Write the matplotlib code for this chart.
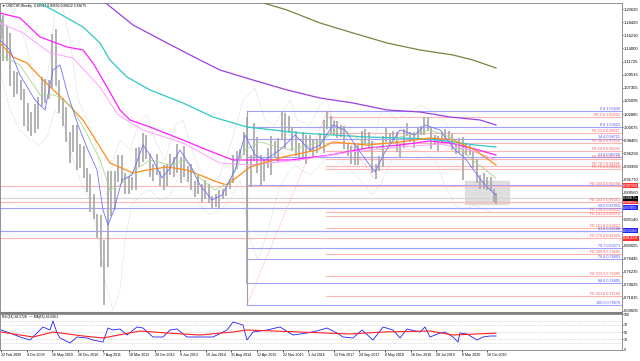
import matplotlib
matplotlib.use("Agg")
import matplotlib.pyplot as plt
import numpy as np
import pandas as pd

START = pd.Timestamp("2009-02-22")   # first weekly bar

# ── monthly price ranges (Feb 2009 .. Jan 2021) ────────────────────────────
highs = [
    1.1900, 1.1966, 1.1770, 1.1660, 1.1010, 1.1000, 1.0860, 1.0710, 1.0470, 1.0330, 1.0460,
    1.0570, 1.0920, 1.0880, 1.0860, 1.1640, 1.1730, 1.0870, 1.0560, 1.0400, 0.9990, 1.0100, 1.0100,
    0.9780, 0.9740, 0.9370, 0.9270, 0.8930, 0.8600, 0.8580, 0.8160, 0.9320, 0.9320, 0.9330, 0.9590,
    0.9600, 0.9290, 0.9230, 0.9220, 0.9710, 0.9730, 0.9970, 0.9930, 0.9610, 0.9450, 0.9620, 0.9330,
    0.9430, 0.9440, 0.9620, 0.9570, 0.9780, 0.9560, 0.9750, 0.9410, 0.9440, 0.9160, 0.9250, 0.9110,
    0.9170, 0.9110, 0.8900, 0.8940, 0.9000, 0.9020, 0.9060, 0.9190, 0.9600, 0.9670, 0.9700, 0.9980,
    1.0240, 0.9600, 1.0130, 0.9900, 0.9600, 0.9530, 0.9710, 0.9910, 0.9840, 0.9880, 1.0330, 1.0300,
    1.0260, 1.0070, 1.0010, 0.9800, 0.9990, 0.9930, 0.9940, 0.9870, 0.9850, 0.9970, 1.0190, 1.0344,
    1.0260, 1.0170, 1.0170, 1.0100, 1.0090, 0.9800, 0.9740, 0.9770, 0.9760, 1.0000, 1.0040, 0.9980,
    0.9840, 0.9450, 0.9580, 0.9920, 1.0060, 0.9970, 1.0000, 0.9980, 0.9790, 1.0030, 1.0130, 0.9990,
    0.9990, 1.0050, 1.0080, 1.0240, 1.0240, 1.0070, 0.9930, 0.9920, 0.9990, 1.0030, 1.0000, 0.9950,
    0.9760, 0.9880, 0.9900, 0.9800, 0.9760, 0.9660, 0.9530, 0.9250, 0.9300, 0.9220, 0.9220, 0.9020,
    0.8960]
lows = [
    1.1550, 1.1180, 1.1190, 1.0770, 1.0580, 1.0630, 1.0520, 1.0090, 1.0010, 0.9920, 0.9960,
    1.0030, 1.0430, 1.0480, 1.0550, 1.0730, 1.0760, 1.0300, 1.0080, 0.9810, 0.9460, 0.9640, 0.9350,
    0.9380, 0.9210, 0.8970, 0.8640, 0.8520, 0.8200, 0.7700, 0.7067, 0.7710, 0.8570, 0.8670, 0.9140,
    0.9130, 0.8930, 0.8930, 0.9000, 0.9000, 0.9390, 0.9480, 0.9530, 0.9230, 0.9160, 0.9260, 0.9070,
    0.9010, 0.9080, 0.9250, 0.9220, 0.9290, 0.9130, 0.9230, 0.9140, 0.9000, 0.8890, 0.8930, 0.8800,
    0.8850, 0.8790, 0.8700, 0.8710, 0.8700, 0.8860, 0.8910, 0.9030, 0.9120, 0.9360, 0.9530, 0.9600,
    0.7410, 0.9050, 0.9490, 0.9300, 0.9070, 0.9150, 0.9370, 0.9260, 0.9550, 0.9480, 0.9850, 0.9700,
    0.9960, 0.9660, 0.9580, 0.9500, 0.9560, 0.9440, 0.9670, 0.9540, 0.9630, 0.9720, 0.9630, 1.0040,
    0.9950, 0.9930, 0.9880, 0.9900, 0.9690, 0.9580, 0.9440, 0.9420, 0.9420, 0.9690, 0.9790, 0.9720,
    0.9290, 0.9190, 0.9330, 0.9400, 0.9820, 0.9790, 0.9860, 0.9650, 0.9540, 0.9720, 0.9920, 0.9810,
    0.9720, 0.9890, 0.9930, 0.9940, 1.0000, 0.9690, 0.9770, 0.9660, 0.9800, 0.9830, 0.9860, 0.9680,
    0.9610, 0.9630, 0.9180, 0.9590, 0.9590, 0.9370, 0.9130, 0.9030, 0.9020, 0.9000, 0.8990, 0.8800,
    0.8760]

# ── moving averages: (week index, price) ───────────────────────────────────
ma_blue_wk = [-1.25, 11.25, 23.75, 42.5, 55, 65, 73.75, 83.75, 96.25, 108.75, 120, 127.5, 133.75,
              141.25, 151.25, 163.75, 177.5, 188.75, 201.25, 211.25, 223.75, 236.25, 248.75, 263.75,
              276.25, 292.5, 305, 317.5, 330, 348.75, 367.5, 386.25, 398.75, 415, 430, 448.75, 467.5,
              480, 498.75, 517.5, 530, 548.75, 567.5, 580, 592.5, 605, 618.75]
ma_blue = [1.1539, 1.1370, 1.0948, 1.0526, 1.0357, 1.1032, 1.1117, 1.0610, 1.0103, 0.9681, 0.9343,
           0.8667, 0.8414, 0.8667, 0.9174, 0.9258, 0.9765, 0.9546, 0.9208, 0.9377, 0.9681, 0.9427,
           0.9089, 0.8836, 0.8920, 0.9343, 0.9934, 0.9596, 0.9512, 0.9681, 0.9934, 0.9681, 0.9765,
           1.0103, 1.0019, 0.9647, 0.9309, 0.9647, 1.0019, 0.9934, 1.0103, 1.0019, 0.9681, 0.9546,
           0.9309, 0.9089, 0.8920]
ma_green_wk = [-1.25, 23.75, 48.75, 67.5, 86.25, 105, 123.75, 136.25, 148.75, 167.5, 186.25, 211.25,
               230, 248.75, 267.5, 286.25, 305, 323.75, 361.25, 398.75, 423.75, 448.75, 473.75,
               498.75, 536.25, 561.25, 586.25, 618.75]
ma_green = [1.1286, 1.1117, 1.0610, 1.0610, 1.0441, 1.0019, 0.9512, 0.9005, 0.9089, 0.9343, 0.9512,
            0.9427, 0.9512, 0.9208, 0.9005, 0.9140, 0.9681, 0.9816, 0.9681, 0.9816, 1.0052, 0.9850,
            0.9681, 0.9900, 1.0019, 0.9900, 0.9546, 0.9208]
ma_orange_wk = [-1.25, 15, 32.5, 52.5, 82.5, 102.5, 123.75, 136.25, 165, 182.5, 207.5, 232.5, 257.5,
                273.75, 282.5, 311.25, 352.5, 395, 415, 457.5, 498.75, 536.25, 565, 592.5, 618.75]
ma_orange = [1.1489, 1.1252, 1.1151, 1.0863, 1.0475, 1.0188, 0.9731, 0.9461, 0.9292, 0.9343, 0.9393,
             0.9343, 0.9208, 0.9123, 0.9089, 0.9393, 0.9562, 0.9681, 0.9816, 0.9765, 0.9816, 0.9884,
             0.9850, 0.9681, 0.9427]
ma_pink_wk = [-1.25, 27.5, 61.25, 90, 123.75, 146.25, 177.5, 227.5, 273.75, 311.25, 373.75, 436.25,
              498.75, 548.75, 586.25, 618.75]
ma_pink = [1.1826, 1.1658, 1.1320, 1.1235, 1.0745, 1.0272, 1.0019, 0.9799, 0.9461, 0.9427, 0.9512,
           0.9647, 0.9731, 0.9782, 0.9681, 0.9512]
ma_magenta_wk = [-1.25, 23.75, 48.75, 82.5, 102.5, 115, 132.5, 148.75, 161.25, 186.25, 227.5, 257.5,
                 273.75, 290, 323.75, 361.25, 411.25, 457.5, 498.75, 536.25, 561.25, 592.5, 618.75]
ma_magenta = [1.1996, 1.1911, 1.1590, 1.1421, 1.1370, 1.1151, 1.0745, 1.0357, 1.0188, 1.0069, 0.9850,
              0.9681, 0.9596, 0.9512, 0.9512, 0.9512, 0.9596, 0.9714, 0.9765, 0.9833, 0.9799,
              0.9698, 0.9596]
ma_cyan_wk = [33.75, 40, 65, 102.5, 123.75, 136.25, 157.5, 186.25, 227.5, 265, 307.5, 373.75, 415,
              457.5, 498.75, 536.25, 565, 592.5, 618.75]
ma_cyan = [1.2300, 1.2215, 1.2046, 1.1759, 1.1489, 1.1201, 1.0914, 1.0695, 1.0475, 1.0238, 1.0069,
           0.9968, 0.9934, 0.9900, 0.9884, 0.9867, 0.9816, 0.9765, 0.9731]
ma_purple_wk = [117.5, 126.25, 165, 207.5, 248.75, 273.75, 315, 357.5, 398.75, 440, 482.5, 523.75,
                561.25, 598.75, 618.75]
ma_purple = [1.2300, 1.2215, 1.1793, 1.1489, 1.1201, 1.1032, 1.0863, 1.0695, 1.0559, 1.0475, 1.0357,
             1.0323, 1.0238, 1.0188, 1.0103]
ma_olive_wk = [315, 320, 357.5, 398.75, 440, 482.5, 523.75, 565, 590, 618.75]
ma_olive = [1.2266, 1.2198, 1.2046, 1.1827, 1.1658, 1.1489, 1.1370, 1.1286, 1.1201, 1.1066]

# dotted envelope (upper / lower band)
band_up_wk = [-1.25, 11.25, 30, 42.5, 52.5, 61.25, 67.5, 76.25, 86.25, 96.25, 108.75, 117.5, 126.25,
              133.75, 140, 148.75, 161.25, 173.75, 182.5, 192.5, 205, 217.5, 227.5, 238.75, 248.75,
              261.25, 273.75, 288.75, 302.5, 317.5, 330, 342.5, 352.5, 361.25, 370, 386.25, 398.75,
              407.5, 415, 430, 448.75, 463.75, 473.75, 482.5, 492.5, 505, 523.75, 536.25, 548.75,
              561.25, 573.75, 586.25, 598.75, 618.75]
band_up = [1.2131, 1.2131, 1.1539, 1.0779, 1.0526, 1.1201, 1.2046, 1.2131, 1.1539, 1.0526, 1.0188,
           0.9850, 0.9174, 0.8836, 0.9512, 0.9850, 0.9681, 1.0188, 1.0272, 0.9850, 0.9512, 1.0103,
           1.0188, 0.9681, 0.9343, 0.9089, 0.9258, 0.9850, 1.0526, 1.0728, 1.0188, 1.0103, 1.0357,
           1.0526, 1.0188, 1.0103, 1.0441, 1.0526, 1.0188, 1.0103, 0.9850, 0.9681, 1.0272, 1.0407,
           1.0188, 1.0272, 1.0441, 1.0357, 1.0272, 1.0019, 0.9681, 0.9512, 0.9427, 0.9174]
band_lo_wk = [-1.25, 11.25, 23.75, 36.25, 48.75, 58.75, 67.5, 77.5, 86.25, 98.75, 111.25, 120, 130,
              140, 148.75, 155, 163.75, 173.75, 186.25, 198.75, 211.25, 223.75, 236.25, 248.75,
              261.25, 273.75, 286.25, 298.75, 311.25, 321.25, 333.75, 348.75, 367.5, 386.25, 398.75,
              415, 430, 448.75, 463.75, 473.75, 488.75, 505, 523.75, 542.5, 555, 567.5, 577.5, 592.5,
              605, 618.75]
band_lo = [1.1032, 1.0357, 1.0019, 0.9850, 0.9765, 0.9934, 1.0357, 1.0188, 0.9681, 0.9174, 0.8836,
           0.8329, 0.7484, 0.6977, 0.7315, 0.8160, 0.8751, 0.8920, 0.9005, 0.8836, 0.8920, 0.9258,
           0.9089, 0.8751, 0.8583, 0.8667, 0.8836, 0.9174, 0.8160, 0.7822, 0.8329, 0.9089, 0.9427,
           0.9258, 0.9427, 0.9681, 0.9427, 0.9174, 0.8920, 0.9089, 0.9512, 0.9681, 0.9681, 0.9512,
           0.9089, 0.8751, 0.8667, 0.8751, 0.8667, 0.8616]

# ── Fibonacci retracement (blue) and expansion (red) ───────────────────────
fib_levels = ["0.0", "8.6", "14.4", "23.6", "38.2", "50.0", "61.8", "70.7", "76.4", "88.6", "100.0"]
fib_prices = [1.03440, 1.00622, 0.98721, 0.95706, 0.90922, 0.87055, 0.83188, 0.80271, 0.78403,
              0.74405, 0.70670]
fe_levels = ["0.0", "23.6", "38.2", "50.0", "61.8", "70.7", "76.4", "100.0", "123.6", "138.2", "141.4",
             "161.8", "176.4", "200.0", "233.6", "261.8"]
fe_prices = [1.02384, 0.99647, 0.97954, 0.96586, 0.95218, 0.94186, 0.93525, 0.90788, 0.88051, 0.86332,
             0.85572, 0.83622, 0.81929, 0.79192, 0.75495, 0.72180]
fib_start_wk = 307.5
fe_start_wk = 406.25

# full-width horizontal lines with price boxes on the axis
hl_prices = [0.90788, 0.88051, 0.87055, 0.83188, 0.81929]
hl_colors = ["#ff3030", "#ff3030", "#2020ff", "#2020ff", "#ff3030"]
last_price = 0.88675

# ── RSI panel ──────────────────────────────────────────────────────────────
rsi_wk = [0, 11.25, 23.75, 36.25, 48.75, 52.5, 61.25, 65, 70, 73.75, 86.25, 95, 107.5, 115, 127.5,
          133.75, 140, 148.75, 157.5, 170, 177.5, 190, 202.5, 211.25, 220, 232.5, 248.75, 265, 282.5,
          290, 302.5, 307.5, 315, 332.5, 348.75, 365, 382.5, 395, 407.5, 420, 427.5, 440, 451.25, 465,
          477.5, 490, 498.75, 507.5, 523.75, 530, 536.25, 548.75, 555, 565, 571.25, 573.75, 582.5,
          595, 602.5, 611.25, 618.75]
rsi_val = [55.7, 47.1, 35.7, 27.1, 55.7, 64.3, 55.7, 81.4, 47.1, 32.9, 18.6, 35.7, 32.9, 27.1, 21.4,
           61.4, 55.7, 58.6, 41.4, 64.3, 61.4, 35.7, 35.7, 55.7, 58.6, 35.7, 35.7, 35.7, 55.7, 78.6,
           70.0, 27.1, 50.0, 55.7, 64.3, 41.4, 47.1, 52.9, 61.4, 47.1, 35.7, 32.9, 55.7, 27.1, 64.3,
           55.7, 32.9, 58.6, 50.0, 64.3, 35.7, 47.1, 50.0, 35.7, 21.4, 47.1, 44.3, 27.1, 35.7, 38.6,
           38.6]
rsi_ma_wk = [0, 40, 65, 102.5, 127.5, 173.75, 207.5, 248.75, 290, 307.5, 373.75, 436.25, 477.5,
             536.25, 565, 618.75]
rsi_ma = [50.0, 35.7, 50.0, 38.6, 32.9, 52.9, 47.1, 41.4, 50.0, 55.7, 50.0, 44.3, 50.0, 52.9, 41.4,
          46.7]

price_ticks = [1.20630, 1.18420, 1.16210, 1.14000, 1.11725, 1.09515, 1.07305, 1.05095, 1.02885,
               1.00675, 0.98465, 0.96290, 0.93980, 0.91770, 0.89560, 0.85140,
               0.80655, 0.78445, 0.76235, 0.74025, 0.71815, 0.69605]

plt.rcParams["font.family"] = ["Liberation Sans", "DejaVu Sans"]
FS_AX, FS_FIB, FS_DATE, FS_TTL = 3.0, 2.7, 2.6, 2.4

W, H = 640, 361
fig = plt.figure(figsize=(6.4, 3.61), dpi=100)
ax = fig.add_axes([0, (H - 313) / H, 622 / W, 310 / H])
ar = fig.add_axes([0, (H - 350) / H, 622 / W, 36 / H], sharex=ax)

XMIN, XMAX = -1.25, 776.25
LBL_X = 773.5
ax.set_xlim(XMIN, XMAX)
ax.set_ylim(0.69267, 1.21644)

# dotted envelope
ax.plot(band_up_wk, band_up, color="#c4c4c4", lw=0.5, ls=(0, (1, 1.5)), zorder=1)
ax.plot(band_lo_wk, band_lo, color="#c4c4c4", lw=0.5, ls=(0, (1, 1.5)), zorder=1)

# price bars
months = pd.date_range("2009-02-01", "2021-01-01", freq="MS") + pd.Timedelta(days=14)
pos = np.clip((months - START).days / 7.0, 0, 619)
ax.vlines(pos, lows, highs, color="#acacac", lw=1.3, zorder=3)

# fibo lines
for lv, p in zip(fib_levels, fib_prices):
    ax.plot([fib_start_wk, XMAX], [p, p], color="#a0a0ff", lw=0.8, zorder=2)
    if lv != "38.2":
        ax.text(LBL_X, p, f"{lv} {p:.5f}", color="#5050ff", fontsize=FS_FIB, ha="right",
                va="bottom", zorder=6)
for lv, p in zip(fe_levels, fe_prices):
    ax.plot([fe_start_wk, XMAX], [p, p], color="#ffb4b4", lw=0.8, zorder=2)
    ax.text(LBL_X, p, f"FE {lv} {p:.5f}", color="#ff5a5a", fontsize=FS_FIB, ha="right",
            va="bottom", zorder=6)
for p, c in zip(hl_prices, hl_colors):
    ax.axhline(p, color="#ffb4b4" if c == "#ff3030" else "#a0a0ff", lw=0.8, zorder=2)
ax.axhline(last_price, color="#d4d4d4", lw=0.8, zorder=2)

# anchor lines of the fibo tools
ax.plot([fib_start_wk, fib_start_wk], [fib_prices[0], fib_prices[-1]], color="#a0a0a0", lw=0.8, zorder=3)
ax.plot([fib_start_wk, 408], [fib_prices[-1], fib_prices[0]], color="#ff9090", lw=0.6, ls=":", zorder=3)
ax.plot([408, 467], [fib_prices[0], 0.9187], color="#ff9090", lw=0.6, ls=":", zorder=3)

# gray zone
ax.add_patch(plt.Rectangle((580, 0.8769), 55, 0.0388, color="#d8d8d8", alpha=0.8, zorder=1))

# moving averages
ax.plot(ma_olive_wk, ma_olive, color="#808040", lw=0.9, zorder=4)
ax.plot(ma_purple_wk, ma_purple, color="#9a40e0", lw=0.9, zorder=4)
ax.plot(ma_cyan_wk, ma_cyan, color="#30c8c8", lw=0.9, zorder=4)
ax.plot(ma_magenta_wk, ma_magenta, color="#ff20ff", lw=0.9, zorder=4)
ax.plot(ma_pink_wk, ma_pink, color="#ffa0ff", lw=0.7, zorder=4)
ax.plot(ma_orange_wk, ma_orange, color="#ff8c1a", lw=0.9, zorder=4)
ax.plot(ma_green_wk, ma_green, color="#a8d890", lw=0.6, zorder=4)
ax.plot(ma_blue_wk, ma_blue, color="#7070ff", lw=0.6, zorder=4)

# right price axis
ax.yaxis.tick_right()
ax.set_yticks(price_ticks)
ax.set_yticklabels([f"{t:.5f}" for t in price_ticks])
ax.tick_params(axis="y", labelsize=FS_AX, length=1.0, width=0.5, pad=0.5)
ax.tick_params(axis="x", bottom=False, labelbottom=False)
for s in ax.spines.values():
    s.set_color("#808080"); s.set_linewidth(0.6)
ax.spines["bottom"].set_linewidth(1.5)

box = dict(boxstyle="square,pad=0.12", ec="none")
for p, c in zip(hl_prices, hl_colors):
    ax.text(1.002, p, f"{p:.5f}", transform=ax.get_yaxis_transform(), fontsize=FS_AX, color="white",
            va="center", ha="left", bbox=dict(box, fc=c), clip_on=False, zorder=8)
ax.text(1.002, last_price, f"{last_price:.5f}", transform=ax.get_yaxis_transform(), fontsize=FS_AX,
        color="white", va="center", ha="left", bbox=dict(box, fc="black"), clip_on=False, zorder=9)

ax.text(0.003, 0.997, "\u25bc USDCHF,Weekly  0.89344 0.89592 0.88622 0.88675", transform=ax.transAxes,
        fontsize=FS_TTL, va="top", ha="left")

# RSI
ar.set_ylim(-1.4, 101.4)
for lvl in [20, 30, 50, 70, 80]:
    ar.axhline(lvl, color="#c0c0c0", lw=0.5, ls=(0, (1, 1.5)))
ar.plot(rsi_wk, rsi_val, color="#2020ff", lw=0.6)
ar.plot(rsi_ma_wk, rsi_ma, color="#ff2020", lw=0.8)
ar.yaxis.tick_right()
ar.set_yticks([0, 30, 50, 70, 100])
ar.tick_params(axis="y", labelsize=FS_DATE, length=1.0, width=0.5, pad=0.5)
for s in ar.spines.values():
    s.set_color("#808080"); s.set_linewidth(0.6)
ar.text(0.003, 0.96, "RSI(14) 38.5728  ~~ MA(55) 46.6961", transform=ar.transAxes, fontsize=FS_TTL,
        va="top", ha="left")

xt = list(range(0, 609, 32))
ar.set_xticks(xt)
ar.set_xticklabels([(START + pd.Timedelta(weeks=k)).strftime("%-d %b %Y") for k in xt])
ar.tick_params(axis="x", labelsize=FS_DATE, length=1.5, width=0.5, pad=1)
for lbl in ar.get_xticklabels():
    lbl.set_horizontalalignment("left")

fig.savefig("out.png", dpi=100)
